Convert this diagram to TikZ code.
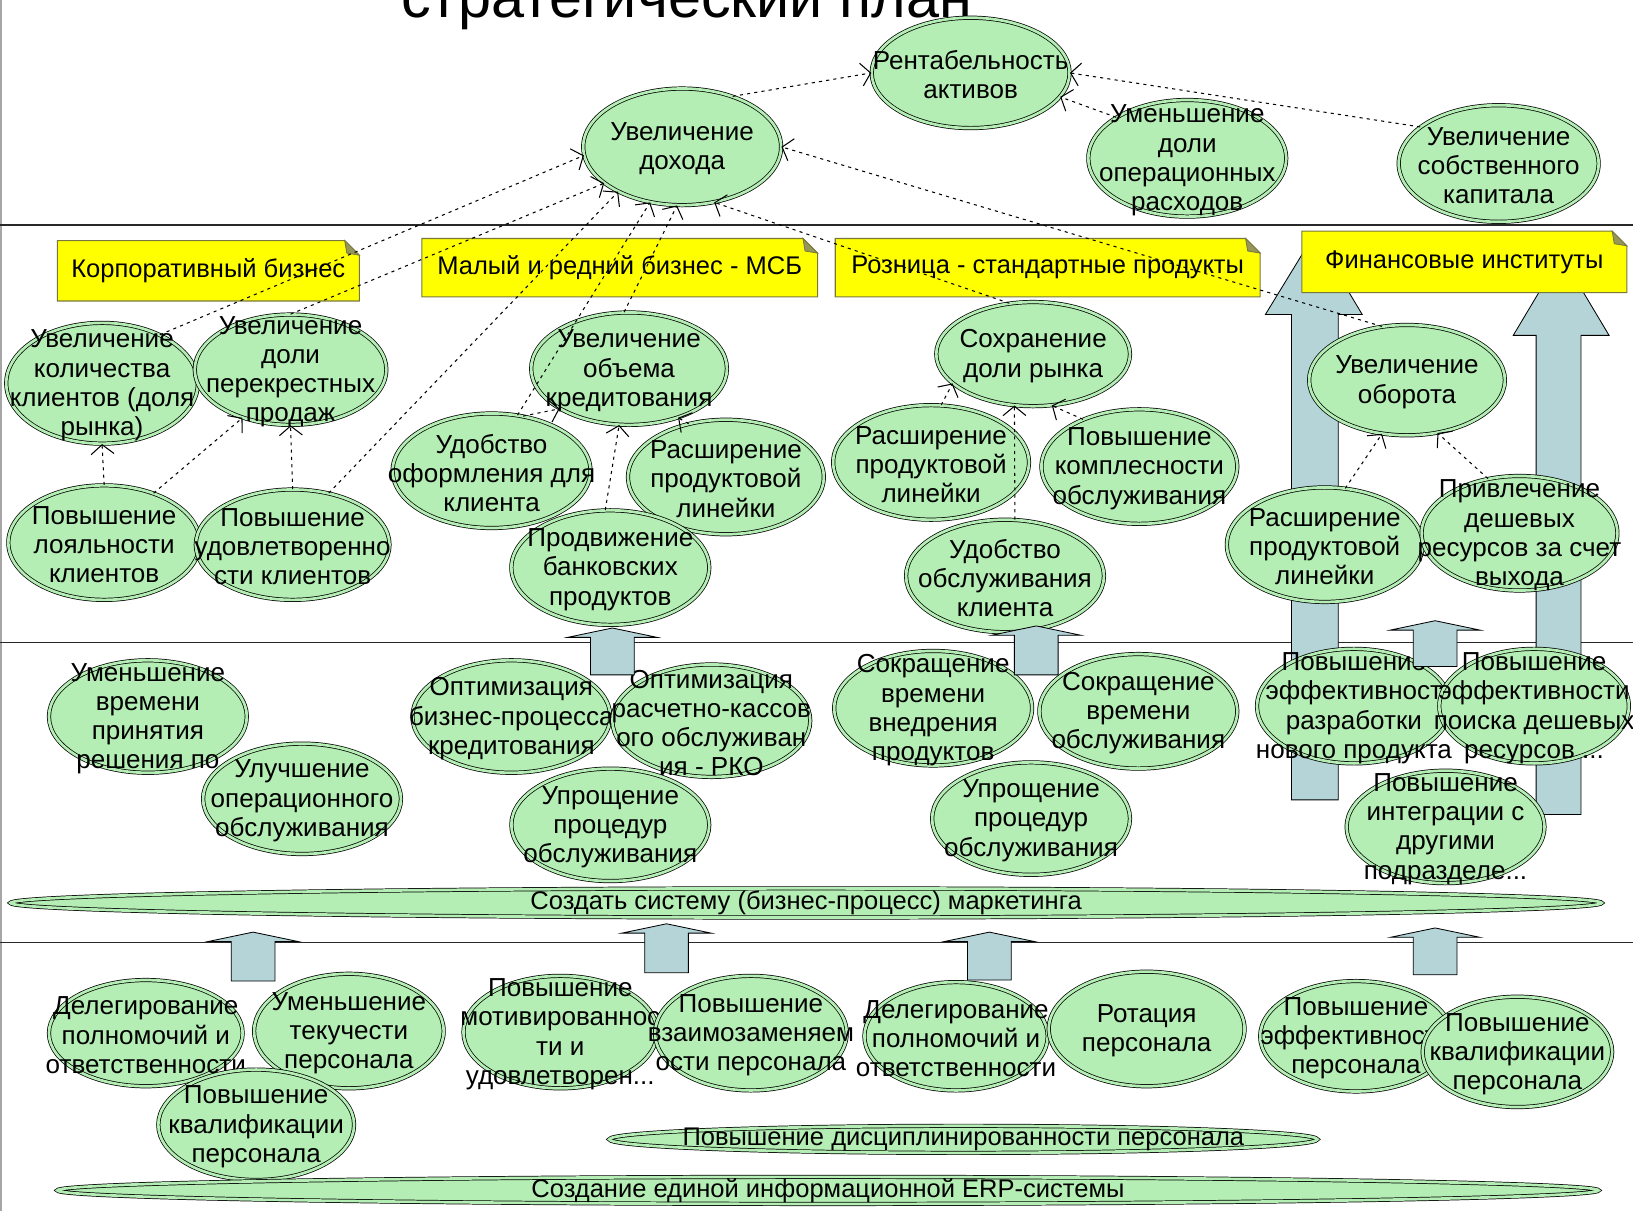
\documentclass[tikz,border=0pt]{standalone}
\usepackage{fontspec}
\setmainfont{Liberation Sans}
\usetikzlibrary{arrows.meta,shapes.geometric}

\definecolor{goalgreen}{RGB}{180,238,180}
\definecolor{noteyellow}{RGB}{255,255,0}
\definecolor{noteedge}{RGB}{120,120,60}
\definecolor{notefold}{RGB}{150,150,90}
\definecolor{flowblue}{RGB}{180,212,216}
\definecolor{laneline}{RGB}{40,40,40}

\tikzset{
  goal/.style={ellipse, draw=black, line width=0.7pt, double=goalgreen,
    double distance=2.6pt, fill=goalgreen, inner sep=0pt},
  goaltext/.style={align=center, font=\fontsize{25}{28}\selectfont, inner sep=0pt, yshift=-2pt},
  notebox/.style={fill=noteyellow, draw=noteedge, line width=1pt},
  notetext/.style={font=\fontsize{24.5}{26}\selectfont, inner sep=0pt},
  bandtext/.style={font=\fontsize{24.5}{26}\selectfont, inner sep=0pt},
  link/.style={line width=1pt, dash pattern=on 3pt off 4pt,
    -{Straight Barb[length=9pt,width=22pt,line width=1pt]}},
  flow/.style={fill=flowblue, draw=black, line width=0.8pt},
}

% goal ellipse: name, centre x, centre y, half width, half height, text
\newcommand\goalnode[6]{%
  \node[goal, minimum width=2*#4-4, minimum height=2*#5-4] (#1) at (#2,#3) {};
  \node[goaltext] (#1-t) at (#1.center) {#6};
}
% sticky note with folded corner: name, x1, y1, x2, y2, text
\newcommand\notecard[6]{%
  \path[notebox] (#2,#3) -- (#4-14,#3) -- (#4,#3+14) -- (#4,#5) -- (#2,#5) -- cycle;
  \path[fill=notefold, draw=noteedge, line width=0.8pt]
    (#4-14,#3) -- (#4,#3+14) -- (#4-12,#3+12) -- cycle;
  \node[notetext] (#1) at ({(#2+#4)/2},{(#3+#5)/2}) {#6};
}
% short block arrow pointing up: centre x, y of head base, y of bottom
\newcommand\upflow[3]{%
  \path[flow] (#1-21,#3) -- (#1-21,#2) -- (#1-43,#2) -- (#1,#2-9)
    -- (#1+43,#2) -- (#1+21,#2) -- (#1+21,#3) -- cycle;
}

\begin{document}
\begin{tikzpicture}[x=1pt,y=-1pt]
\useasboundingbox (0,0) rectangle (1568,1163);
\fill[white] (0,0) rectangle (1568,1163);

% title
\node[anchor=base west, inner sep=0pt, font=\fontsize{57}{60}\selectfont]
  (title) at (385,17) {стратегический план};

% frame and lanes
\draw[gray!70, line width=1.5pt] (1,0) -- (1,1163);
\draw[laneline, line width=1.2pt] (0,216) -- (1568,216);
\draw[laneline, line width=1.2pt] (0,617) -- (1568,617);
\draw[laneline, line width=1.2pt] (0,905) -- (1568,905);

% tall arrows of the financial institutions lane
\path[flow] (1240,768) -- (1240,302) -- (1215,302) -- (1262,225) -- (1308,302)
  -- (1285,302) -- (1285,768) -- cycle;
\path[flow] (1475,782) -- (1475,322) -- (1453,322) -- (1499,245) -- (1545,322)
  -- (1518,322) -- (1518,782) -- cycle;

% segment notes
\notecard{corp}{55}{231}{345}{289}{Корпоративный бизнес}
\notecard{msb}{405}{229}{785}{285}{Малый и редний бизнес - МСБ}
\notecard{retail}{802}{229}{1210}{285}{Розница - стандартные продукты}
\notecard{fin}{1250}{222}{1562}{281}{Финансовые институты}

% financial goals
\goalnode{rent}{932}{70}{97}{55}{Рентабельность\\активов}
\goalnode{inc}{655}{141}{97}{58}{Увеличение\\дохода}
\goalnode{red}{1140}{152}{97}{58}{Уменьшение\\доли\\операционных\\расходов}
\goalnode{cap}{1439}{157}{98}{58}{Увеличение\\собственного\\капитала}

% client goals: corporate business
\goalnode{n5}{98}{368}{94}{60}{Увеличение\\количества\\клиентов (доля\\рынка)}
\goalnode{n6}{279}{355}{94}{55}{Увеличение\\доли\\перекрестных\\продаж}
\goalnode{n7}{100}{521}{94}{57}{Повышение\\лояльности\\клиентов}
\goalnode{n8}{281}{523}{95}{55}{Повышение\\удовлетворенно\\сти клиентов}

% client goals: small and medium business
\goalnode{n9}{604}{354}{96}{56}{Увеличение\\объема\\кредитования}
\goalnode{n10}{472}{452}{97}{57}{Удобство\\оформления для\\клиента}
\goalnode{n11}{697}{458}{96}{57}{Расширение\\продуктовой\\линейки}
\goalnode{n12}{586}{545}{97}{57}{Продвижение\\банковских\\продуктов}

% client goals: retail
\goalnode{n13}{992}{340}{95}{52}{Сохранение\\доли рынка}
\goalnode{n14}{894}{444}{96}{57}{Расширение\\продуктовой\\линейки}
\goalnode{n15}{1094}{448}{96}{57}{Повышение\\комплесности\\обслуживания}
\goalnode{n16}{965}{553}{97}{56}{Удобство\\обслуживания\\клиента}

% client goals: financial institutions
\goalnode{n17}{1351}{365}{96}{55}{Увеличение\\оборота}
\goalnode{n18}{1272}{523}{96}{57}{Расширение\\продуктовой\\линейки}
\goalnode{n19}{1459}{512}{96}{57}{Привлечение\\дешевых\\ресурсов за счет\\выхода}

% internal processes
\goalnode{n20}{142}{688}{97}{56}{Уменьшение\\времени\\принятия\\решения по}
\goalnode{n21}{290}{767}{97}{55}{Улучшение\\операционного\\обслуживания}
\goalnode{n22}{491}{688}{97}{56}{Оптимизация\\бизнес-процесса\\кредитования}
\goalnode{n23}{683}{692}{97}{56}{Оптимизация\\расчетно-кассов\\ого обслуживан\\ия - РКО}
\goalnode{n24}{586}{792}{97}{56}{Упрощение\\процедур\\обслуживания}
\goalnode{n25}{896}{680}{97}{57}{Сокращение\\времени\\внедрения\\продуктов}
\goalnode{n26}{1093}{683}{97}{57}{Сокращение\\времени\\обслуживания}
\goalnode{n27}{990}{786}{97}{56}{Упрощение\\процедур\\обслуживания}
\goalnode{n28}{1300}{678}{95}{57}{Повышение\\эффективност\\разработки\\нового продукта}
\goalnode{n29}{1473}{678}{93}{57}{Повышение\\эффективности\\поиска дешевых\\ресурсов ...}
\goalnode{n30}{1388}{794}{97}{56}{Повышение\\интеграции с\\другими\\подразделе...}

\node[goal, minimum width=1528, minimum height=28] (mkt) at (774,867) {};
\node[bandtext] (mkt-t) at (mkt.center) {Создать систему (бизнес-процесс) маркетинга};

% learning and growth
\goalnode{n31}{140}{992}{95}{53}{Делегирование\\полномочий и\\ответственности}
\goalnode{n32}{335}{990}{93}{57}{Уменьшение\\текучести\\персонала}
\goalnode{n33}{246}{1080}{96}{55}{Повышение\\квалификации\\персонала}
\goalnode{n34}{538}{991}{95}{56}{Повышение\\мотивированнос\\ти и\\удовлетворен...}
\goalnode{n35}{721}{992}{94}{57}{Повышение\\взаимозаменяем\\ости персонала}
\goalnode{n36}{918}{995}{90}{54}{Делегирование\\полномочий и\\ответственности}
\goalnode{n37}{1101}{988}{96}{57}{Ротация\\персонала}
\goalnode{n38}{1302}{995}{94}{55}{Повышение\\эффективности\\персонала}
\goalnode{n39}{1457}{1010}{93}{55}{Повышение\\квалификации\\персонала}

\node[goal, minimum width=680, minimum height=26] (disc) at (925,1094) {};
\node[bandtext] (disc-t) at (disc.center) {Повышение дисциплинированности персонала};
\node[goal, minimum width=1480, minimum height=26] (erp) at (795,1143) {};
\node[bandtext] (erp-t) at (erp.center) {Создание единой информационной ERP-системы};

% block arrows between lanes
\upflow{588}{612}{648}
\upflow{995}{610}{648}
\upflow{1378}{605}{640}
\upflow{243}{904}{942}
\upflow{640}{896}{934}
\upflow{950}{904}{941}
\upflow{1378}{900}{936}

% cause-and-effect links
\draw[link] (inc.45) -- (rent.west);
\draw[link] (red.150) -- (rent.345);
\draw[link] (cap.155) -- (rent.east);

\draw[link] (n5.40) -- (inc.185);
\draw[link] (n6.north) -- (inc.205);
\draw[link] (n8.55) -- (inc.215);
\draw[link] (n10.65) -- (inc.240);
\draw[link] (n9.95) -- (inc.265);
\draw[link] (n13.115) -- (inc.300);
\draw[link] (n17.115) -- (inc.east);

\draw[link] (n7.north) -- (n5.south);
\draw[link] (n7.45) -- (n6.225);
\draw[link] (n8.north) -- (n6.south);

\draw[link] (n12.95) -- (n9.260);
\draw[link] (n10.60) -- (n9.210);
\draw[link] (n11.125) -- (n9.315);

\draw[link] (n14.80) -- (n13.200);
\draw[link] (n16.80) -- (n13.250);
\draw[link] (n15.140) -- (n13.290);

\draw[link] (n18.70) -- (n17.245);
\draw[link] (n19.120) -- (n17.300);
\end{tikzpicture}
\end{document}
